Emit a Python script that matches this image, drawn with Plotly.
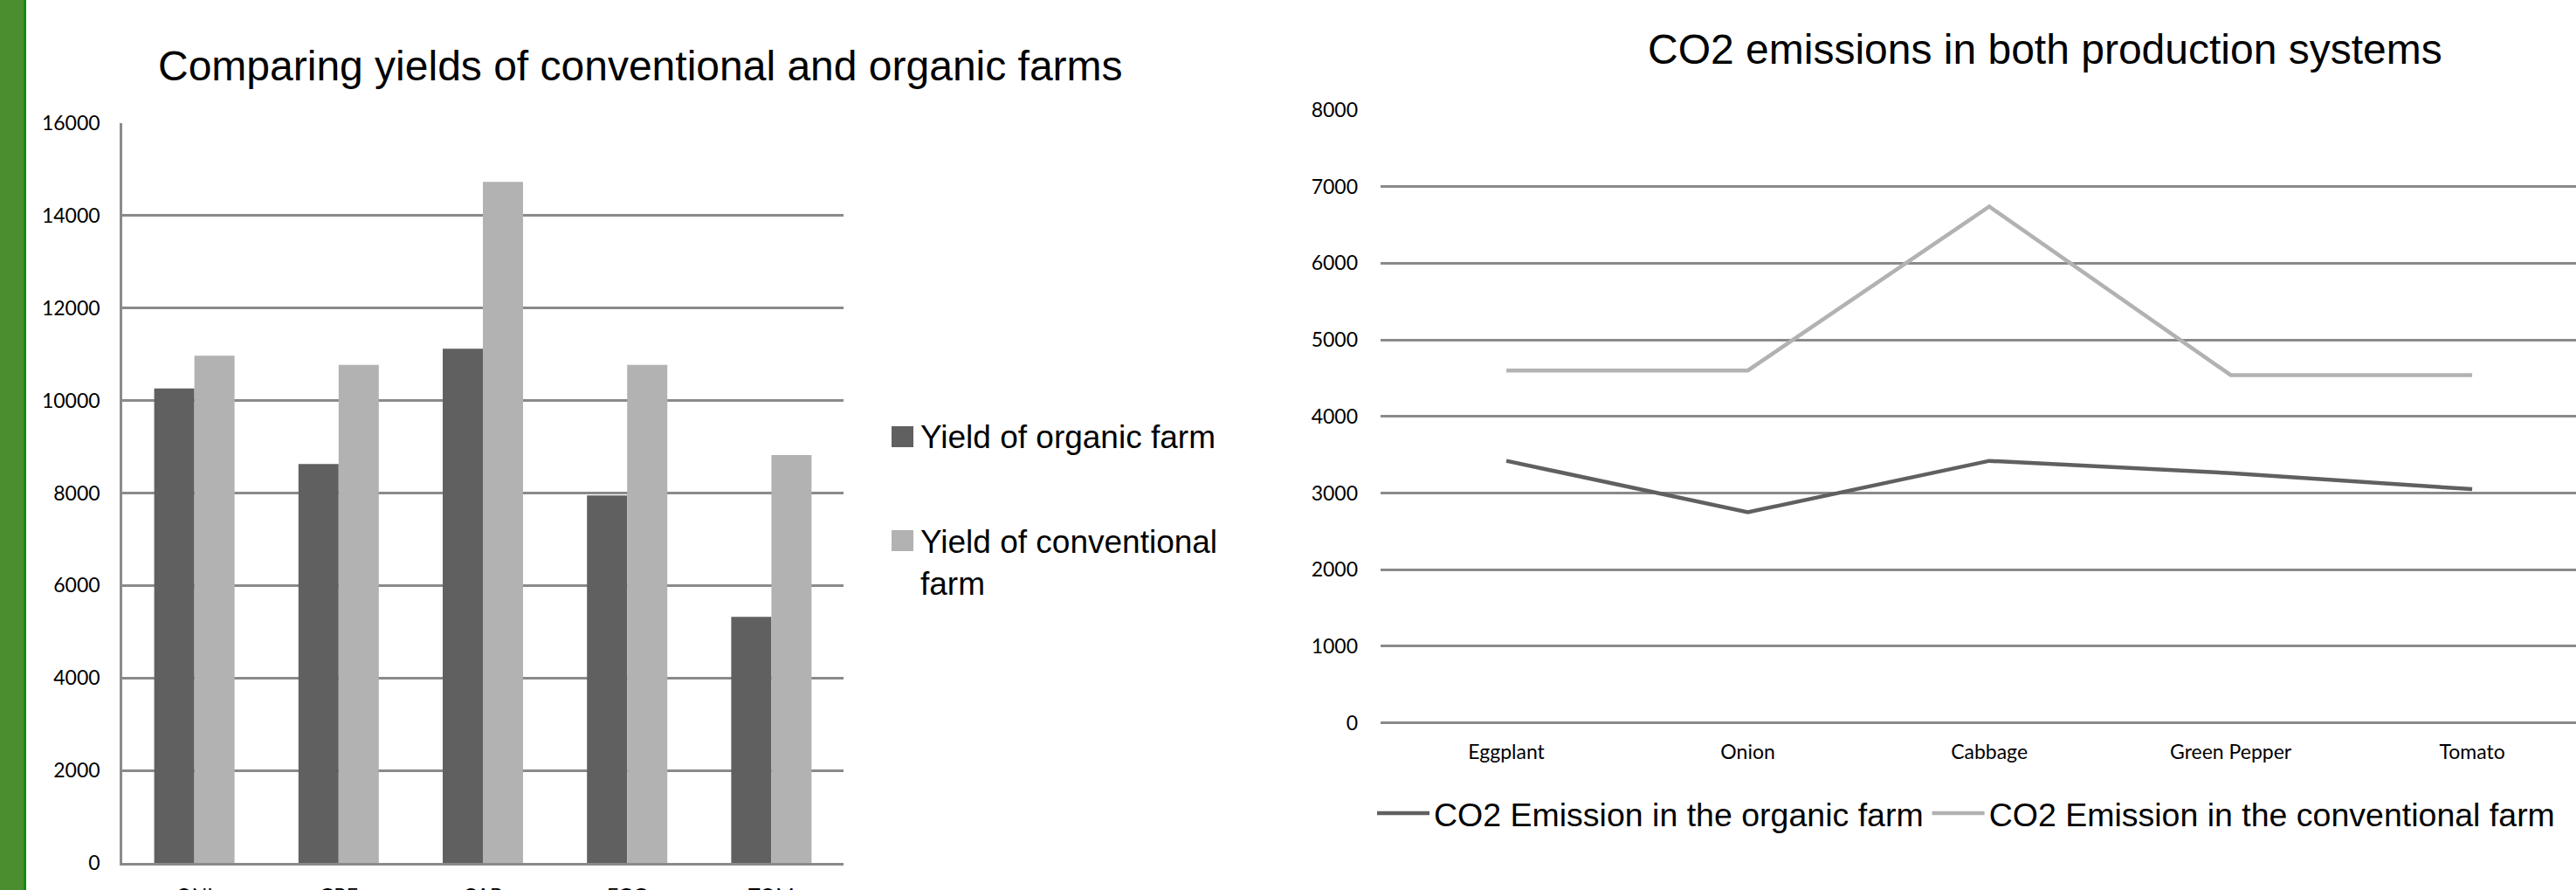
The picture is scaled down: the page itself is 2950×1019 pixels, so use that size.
import plotly.graph_objects as go

W, H = 2950, 1019

# ---- yields per crop (bar chart) ----
yield_categories = ["ONI", "GRE", "CAB", "EGG", "TOM"]
yield_organic = [10260, 8630, 11120, 7950, 5320]
yield_conventional = [10970, 10770, 14730, 10770, 8820]
yield_names = ["Yield of organic farm", "Yield of conventional<br>farm"]
yield_ticks = [0, 2000, 4000, 6000, 8000, 10000, 12000, 14000, 16000]

# ---- CO2 emissions per crop (line chart) ----
co2_categories = ["Eggplant", "Onion", "Cabbage", "Green Pepper", "Tomato"]
co2_organic = [3420, 2750, 3420, 3260, 3050]
co2_conventional = [4600, 4600, 6740, 4540, 4540]
co2_names = ["CO2 Emission in the organic farm", "CO2 Emission in the conventional farm"]
co2_ticks = [0, 1000, 2000, 3000, 4000, 5000, 6000, 7000, 8000]

DARK = "#606060"
LIGHT = "#b2b2b2"
GRID = "#8a8a8a"
TITLE_FONT = "Liberation Sans, Arial, sans-serif"
TICK_FONT = "Lato, sans-serif"


def px_x(x):
    return x / W


def px_y(y):
    return 1 - y / H


fig = go.Figure()

fig.add_trace(go.Bar(x=yield_categories, y=yield_organic, name=yield_names[0],
                     marker=dict(color=DARK, line=dict(width=0)),
                     xaxis="x", yaxis="y", showlegend=False))
fig.add_trace(go.Bar(x=yield_categories, y=yield_conventional, name=yield_names[1],
                     marker=dict(color=LIGHT, line=dict(width=0)),
                     xaxis="x", yaxis="y", showlegend=False))

fig.add_trace(go.Scatter(x=co2_categories, y=co2_organic, name=co2_names[0],
                         mode="lines", line=dict(color=DARK, width=4.5),
                         xaxis="x2", yaxis="y2", legend="legend2"))
fig.add_trace(go.Scatter(x=co2_categories, y=co2_conventional, name=co2_names[1],
                         mode="lines", line=dict(color=LIGHT, width=4.5),
                         xaxis="x2", yaxis="y2", legend="legend2"))

shapes = [
    # green band on the left edge
    dict(type="rect", xref="paper", yref="paper", x0=0, x1=px_x(27), y0=0, y1=1,
         fillcolor="#4b8e30", line=dict(width=0), layer="above"),
    dict(type="rect", xref="paper", yref="paper", x0=px_x(27), x1=px_x(30), y0=0, y1=1,
         fillcolor="#128a12", line=dict(width=0), layer="above"),
]

annotations = [
    dict(text="Comparing yields of conventional and organic farms", xref="paper", yref="paper",
         x=px_x(733), y=px_y(75), xanchor="center", yanchor="middle", showarrow=False,
         font=dict(family=TITLE_FONT, size=48, color="black")),
    dict(text="CO2 emissions in both production systems", xref="paper", yref="paper",
         x=px_x(2342), y=px_y(56), xanchor="center", yanchor="middle", showarrow=False,
         font=dict(family=TITLE_FONT, size=48, color="black")),
]

# legend for the bar chart: square swatch + label per series
legend_rows = [(500, 500), (619, 644)]
for (swatch_y, text_y), name, color in zip(legend_rows, yield_names, [DARK, LIGHT]):
    shapes.append(dict(type="rect", xref="paper", yref="paper",
                       x0=px_x(1021), x1=px_x(1046),
                       y0=px_y(swatch_y + 12), y1=px_y(swatch_y - 12),
                       fillcolor=color, line=dict(width=0)))
    annotations.append(dict(text=name, xref="paper", yref="paper",
                            x=px_x(1052), y=px_y(text_y), xanchor="left", yanchor="middle",
                            align="left", showarrow=False,
                            font=dict(family=TITLE_FONT, size=37, color="black")))

fig.update_layout(
    width=W, height=H,
    margin=dict(l=0, r=0, t=0, b=0, pad=0, autoexpand=False),
    paper_bgcolor="white", plot_bgcolor="white",
    barmode="group", bargap=0.443, bargroupgap=0,
    shapes=shapes, annotations=annotations,
    xaxis=dict(domain=[px_x(140), px_x(966)], anchor="y",
               showgrid=False, zeroline=False, ticks="",
               showline=True, linecolor=GRID, linewidth=2.5,
               tickfont=dict(family=TICK_FONT, size=23, color="black"),
               ticklabelstandoff=16),
    yaxis=dict(domain=[px_y(988), px_y(141)], anchor="x",
               range=[0, 16000], tickvals=yield_ticks,
               ticktext=[str(v) for v in yield_ticks],
               showgrid=True, gridcolor=GRID, gridwidth=2.5,
               zeroline=False, ticks="",
               showline=True, linecolor=GRID, linewidth=2.5,
               tickfont=dict(family=TICK_FONT, size=23, color="black"),
               ticklabelstandoff=18),
    xaxis2=dict(domain=[px_x(1581), 1], anchor="y2",
                type="category", range=[-0.521, 4.43],
                showgrid=False, zeroline=False, showline=False, ticks="",
                tickfont=dict(family=TICK_FONT, size=23, color="black"),
                ticklabelstandoff=17),
    yaxis2=dict(domain=[px_y(827.6), px_y(126)], anchor="x2",
                range=[0, 8000], tickvals=co2_ticks,
                ticktext=[str(v) for v in co2_ticks],
                showgrid=True, gridcolor=GRID, gridwidth=2.5,
                zeroline=True, zerolinecolor=GRID, zerolinewidth=2.5,
                showline=False, ticks="",
                tickfont=dict(family=TICK_FONT, size=23, color="black"),
                ticklabelstandoff=25),
    legend2=dict(orientation="h", x=px_x(1572), xanchor="left",
                 y=px_y(931), yanchor="middle",
                 font=dict(family=TITLE_FONT, size=37.5, color="black"),
                 itemwidth=60, bgcolor="rgba(0,0,0,0)",
                 traceorder="normal"),
)

fig.write_html("out.html")
